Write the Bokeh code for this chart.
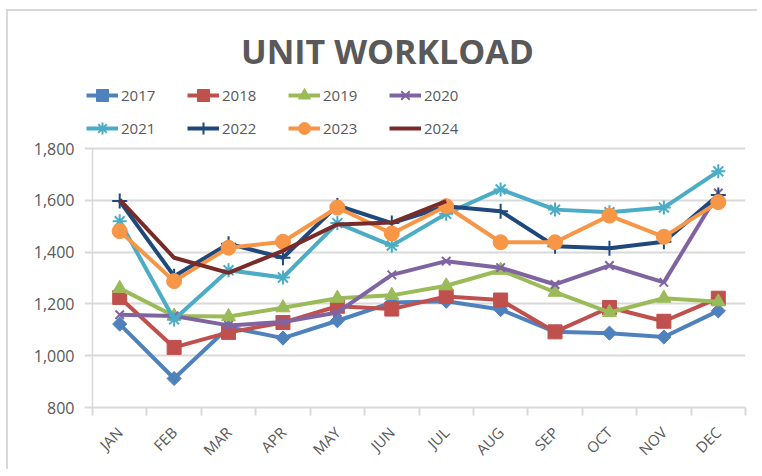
from bokeh.plotting import figure
from bokeh.models import Range1d, FixedTicker, Legend, LegendItem, Label, NumeralTickFormatter
from bokeh.embed import file_html
from bokeh.resources import INLINE

MONTHS = ["JAN", "FEB", "MAR", "APR", "MAY", "JUN", "JUL", "AUG", "SEP", "OCT", "NOV", "DEC"]
Y_TICKS = [800, 1000, 1200, 1400, 1600, 1800]

y2017 = [1122, 912, 1110, 1068, 1135, 1205, 1210, 1178, 1092, 1087, 1072, 1173]
y2018 = [1225, 1032, 1090, 1128, 1191, 1180, 1229, 1215, 1092, 1186, 1133, 1222]
y2019 = [1260, 1153, 1151, 1185, 1222, 1233, 1270, 1330, 1245, 1167, 1222, 1208]
y2020 = [1158, 1153, 1117, 1130, 1167, 1312, 1365, 1340, 1275, 1348, 1283, 1628]
y2021 = [1519, 1140, 1330, 1302, 1512, 1425, 1548, 1642, 1564, 1554, 1572, 1712]
y2022 = [1597, 1307, 1432, 1378, 1580, 1512, 1577, 1558, 1423, 1415, 1440, 1620]
y2023 = [1481, 1288, 1417, 1440, 1572, 1472, 1577, 1438, 1438, 1541, 1459, 1593]
y2024 = [1603, 1378, 1320, 1405, 1507, 1514, 1597]

SERIES = [
    ("2017", y2017, "#4F81BD", "square", 10, 0.785398),
    ("2018", y2018, "#C0504D", "square", 14, 0),
    ("2019", y2019, "#9BBB59", "triangle", 14, 0),
    ("2020", y2020, "#8064A2", "x", 12, 0),
    ("2021", y2021, "#4BACC6", "asterisk", 14, 0),
    ("2022", y2022, "#1F497D", "cross", 15, 0),
    ("2023", y2023, "#F79646", "circle", 15, 0),
    ("2024", y2024, "#772C2A", None, 0, 0),
]

GRAY = "#d9d9d9"
TXT = "#595959"

# layout (screenshot pixels)
ORG_X, ORG_Y = 9, 12          # figure content origin (inside its css border)
AX_L, AX_R = 93, 746          # plot-area left/right (x = 0 .. 12)
AX_T, AX_B = 149, 408         # plot-area top/bottom (y = 1800 .. 800)
FR_L, FR_T = 85, 16           # extended frame left/top
FIG_R, FIG_B = 758, 467

n = len(MONTHS)
px_x = (AX_R - AX_L) / n
px_y = (AX_B - AX_T) / (Y_TICKS[-1] - Y_TICKS[0])
x_start = -(AX_L - FR_L) / px_x
y_end = Y_TICKS[-1] + (AX_T - FR_T) / px_y

xs = [i + 0.5 for i in range(n)]

p = figure(frame_width=AX_R - FR_L, frame_height=AX_B - FR_T,
           x_range=Range1d(x_start, n), y_range=Range1d(Y_TICKS[0], y_end),
           output_backend="svg", toolbar_location=None,
           min_border_left=FR_L - ORG_X, min_border_right=FIG_R - AX_R,
           min_border_top=FR_T - ORG_Y, min_border_bottom=FIG_B - AX_B)
p.styles = {"margin-left": "6px", "margin-top": "9px",
            "border-left": "2px solid #d9d9d9", "border-top": "2px solid #d9d9d9"}
p.outline_line_color = None
p.background_fill_color = "white"
p.border_fill_color = "white"

p.xgrid.grid_line_color = None
p.ygrid.grid_line_color = GRAY
p.ygrid.grid_line_width = 2

p.yaxis.ticker = FixedTicker(ticks=Y_TICKS)
p.yaxis.formatter = NumeralTickFormatter(format="0,0")
p.yaxis.axis_line_color = None
p.yaxis.major_tick_line_color = None
p.yaxis.minor_tick_line_color = None
p.yaxis.major_tick_out = 0
p.yaxis.minor_tick_out = 0
p.yaxis.major_label_standoff = 10
p.yaxis.major_label_text_font = "Open Sans"
p.yaxis.major_label_text_font_size = "16px"
p.yaxis.major_label_text_color = TXT

p.xaxis.ticker = FixedTicker(ticks=xs, minor_ticks=list(range(n + 1)))
p.xaxis.major_label_overrides = {x: m for x, m in zip(xs, MONTHS)}
p.xaxis.axis_line_color = GRAY
p.xaxis.axis_line_width = 2
p.xaxis.major_tick_line_color = None
p.xaxis.minor_tick_line_color = GRAY
p.xaxis.minor_tick_line_width = 2
p.xaxis.minor_tick_in = 0
p.xaxis.minor_tick_out = 8
p.xaxis.major_label_orientation = 0.785398
p.xaxis.major_label_standoff = 14
p.xaxis.major_label_text_font = "Open Sans"
p.xaxis.major_label_text_font_size = "15px"
p.xaxis.major_label_text_color = TXT

# vertical axis line of the plot area
p.segment(x0=[0], y0=[Y_TICKS[0]], x1=[0], y1=[Y_TICKS[-1]], line_color=GRAY, line_width=1.5)

items = []
for name, vals, color, marker, size, ang in SERIES:
    xv = xs[:len(vals)]
    r = [p.line(xv, vals, line_color=color, line_width=4)]
    if marker:
        lw = 2 if marker in ("x", "asterisk", "cross") else 1
        r.append(p.scatter(xv, vals, marker=marker, size=size, angle=ang, fill_color=color,
                           line_color=color, line_width=lw))
    items.append(LegendItem(label=name, renderers=r))

legend = Legend(items=items, orientation="horizontal", ncols=4, location=(87 - FR_L, AX_B - 144),
                glyph_width=32, glyph_height=30, label_height=30, label_width=63,
                label_standoff=3, spacing=3, padding=0, margin=0,
                border_line_color=None, background_fill_alpha=0,
                label_text_font="Open Sans", label_text_font_size="15px",
                label_text_color=TXT)
p.add_layout(legend, "center")

title = Label(x=388 - FR_L, y=AX_B - 51, x_units="screen", y_units="screen", text="UNIT WORKLOAD",
              text_align="center", text_baseline="middle", text_font="Open Sans",
              text_font_style="bold", text_font_size="34px", text_color=TXT)
p.add_layout(title)

open("out.html", "w").write(file_html(p, INLINE))
